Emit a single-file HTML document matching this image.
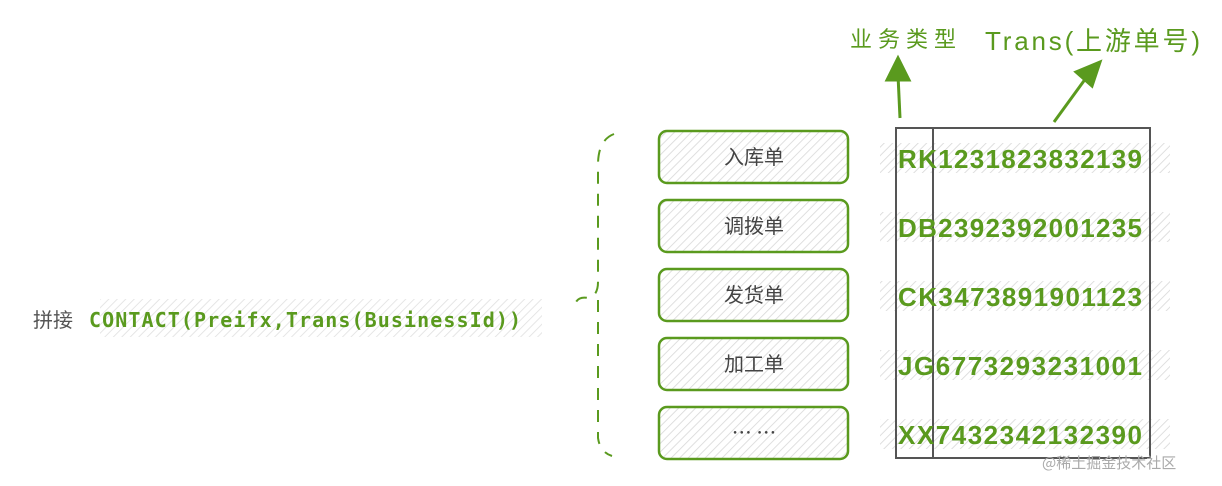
<!DOCTYPE html>
<html><head><meta charset="utf-8"><style>
html,body{margin:0;padding:0;background:#fff;}
body{width:1222px;height:486px;position:relative;overflow:hidden;font-family:"Liberation Sans","Noto Sans CJK SC",sans-serif;}
</style></head><body>
<svg width="1222" height="486" viewBox="0 0 1222 486" xmlns="http://www.w3.org/2000/svg" style="position:absolute;left:0;top:0">
<defs>
<pattern id="h" width="6" height="6" patternUnits="userSpaceOnUse" patternTransform="rotate(45)">
<rect width="6" height="6" fill="#fff"/><line x1="0" y1="0" x2="0" y2="6" stroke="#d8d8d8" stroke-width="1.6"/>
</pattern>
<marker id="ar" markerWidth="10" markerHeight="10" refX="5" refY="5" orient="auto" markerUnits="userSpaceOnUse" viewBox="0 0 10 10"></marker>
</defs>
<!-- left hatched bg -->
<rect x="100" y="299" width="442" height="38" fill="url(#h)" opacity="0.8"/>
<text x="33" y="327" font-size="20" fill="#555" font-family="'Noto Sans CJK SC',sans-serif">拼接</text>
<text x="89" y="327" font-size="20" font-weight="bold" fill="#5a9a1e" font-family="'DejaVu Sans Mono','Liberation Mono',monospace" textLength="432">CONTACT(Preifx,Trans(BusinessId))</text>
<!-- brace -->
<path d="M614,134 Q598,140 598,165 L598,282 Q598,296 588,298 Q578,296 575,304 M598,300 L598,438 Q600,452 612,456" fill="none" stroke="#5a9a1e" stroke-width="2" stroke-dasharray="12,10"/>
<!-- boxes -->
<g stroke="#5a9a1e" stroke-width="2.5" fill="url(#h)">
<rect x="659" y="131" width="189" height="52" rx="8"/>
<rect x="659" y="200" width="189" height="52" rx="8"/>
<rect x="659" y="269" width="189" height="52" rx="8"/>
<rect x="659" y="338" width="189" height="52" rx="8"/>
<rect x="659" y="407" width="189" height="52" rx="8"/>
</g>
<g font-size="20" fill="#444" text-anchor="middle" font-family="'Noto Sans CJK SC',sans-serif">
<text x="754" y="164">入库单</text>
<text x="754" y="233">调拨单</text>
<text x="754" y="302">发货单</text>
<text x="754" y="371">加工单</text>
<text x="754" y="440">… …</text>
</g>
<!-- code hatch -->
<g fill="url(#h)">
<rect x="880" y="143" width="290" height="30"/>
<rect x="880" y="212" width="290" height="30"/>
<rect x="880" y="281" width="290" height="30"/>
<rect x="880" y="350" width="290" height="30"/>
<rect x="880" y="419" width="290" height="30"/>
</g>
<!-- table -->
<g fill="none" stroke="#555" stroke-width="2">
<rect x="896" y="128" width="254" height="330"/>
<line x1="933" y1="128" x2="933" y2="458"/>
</g>
<g font-size="26" fill="#5a9a1e" font-weight="bold" font-family="'Liberation Sans',sans-serif">
<text x="898" y="168" textLength="244">RK1231823832139</text>
<text x="898" y="237" textLength="244">DB2392392001235</text>
<text x="898" y="306" textLength="244">CK3473891901123</text>
<text x="898" y="375" textLength="244">JG6773293231001</text>
<text x="898" y="444" textLength="244">XX7432342132390</text>
</g>
<!-- arrows -->
<g stroke="#5a9a1e" stroke-width="3" fill="#5a9a1e">
<line x1="900" y1="118" x2="898" y2="75"/>
<polygon points="887,80 898,58 909,80"/>
<line x1="1054" y1="122" x2="1086" y2="78"/>
<polygon points="1076,72 1100,62 1092,86"/>
</g>
<text x="850" y="47" font-size="22" fill="#5a9a1e" font-family="'Noto Sans CJK SC',sans-serif" textLength="106">业务类型</text>
<text x="985" y="50" font-size="26" fill="#5a9a1e" font-family="'Liberation Sans','Noto Sans CJK SC',sans-serif" textLength="215">Trans(上游单号)</text>
<text x="1042" y="468" font-size="15" fill="#aaa" font-family="'Noto Sans CJK SC',sans-serif">@稀土掘金技术社区</text>
</svg>
</body></html>
